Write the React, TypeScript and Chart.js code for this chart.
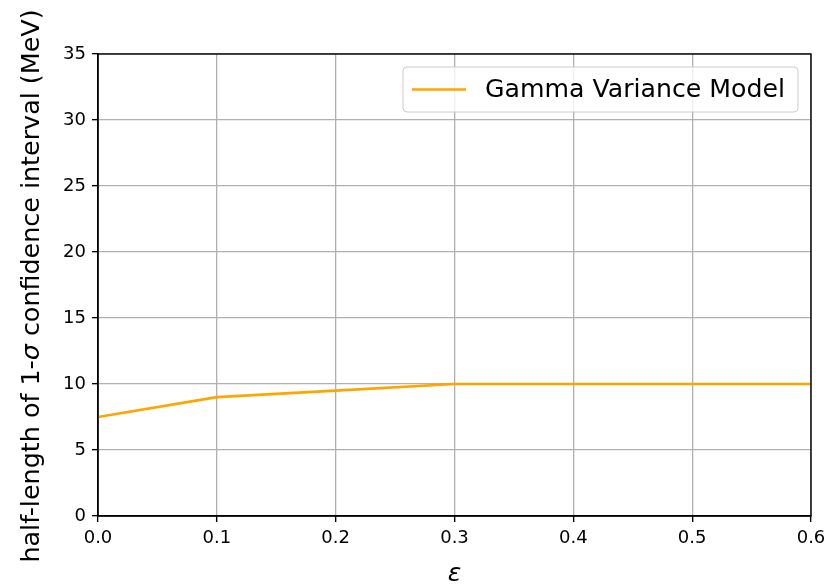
import React, { useEffect, useRef } from "react";
import { Chart, registerables } from "chart.js";

Chart.register(...registerables);

// Half-length of the 1-sigma interval versus epsilon
const epsilon = [0.0, 0.1, 0.2, 0.3, 0.4, 0.5, 0.6];
const halfLength = [7.5, 9.0, 9.5, 10.0, 10.0, 10.0, 10.0];

const xTicks = [0.0, 0.1, 0.2, 0.3, 0.4, 0.5, 0.6];
const yTicks = [0, 5, 10, 15, 20, 25, 30, 35];

const seriesLabel = "Gamma Variance Model";
const seriesColor = "#ffa500";
const xTitle = "ε";
// [text, italic]
const yTitleParts: [string, boolean][] = [
  ["half-length of 1-", false],
  ["σ", true],
  [" confidence interval (MeV)", false],
];

const FONT = "'DejaVu Sans', 'Liberation Sans', sans-serif";

// black box around the plotting area, drawn above the data line
const framePlugin = {
  id: "frame",
  afterDatasetsDraw(chart: any) {
    const { ctx, chartArea: a } = chart;
    ctx.save();
    ctx.strokeStyle = "#000";
    ctx.lineWidth = 1.4;
    ctx.strokeRect(a.left, a.top, a.right - a.left, a.bottom - a.top);
    ctx.restore();
  },
};

// vertical axis title with an italic sigma
const yTitlePlugin = {
  id: "yTitle",
  afterDraw(chart: any) {
    const { ctx, chartArea: a } = chart;
    const size = 25.4;
    ctx.save();
    const fontFor = (it: boolean) => `${it ? "italic " : ""}${size}px ${FONT}`;
    let total = 0;
    const widths = yTitleParts.map(([t, it]) => {
      ctx.font = fontFor(it);
      const w = ctx.measureText(t).width;
      total += w;
      return w;
    });
    ctx.translate(32, (a.top + a.bottom) / 2 + 1);
    ctx.rotate(-Math.PI / 2);
    ctx.fillStyle = "#000";
    ctx.textBaseline = "middle";
    ctx.textAlign = "left";
    let x = -total / 2;
    yTitleParts.forEach(([t, it], i) => {
      ctx.font = fontFor(it);
      ctx.fillText(t, x, 0);
      x += widths[i];
    });
    ctx.restore();
  },
};

// boxed legend in the upper-right corner of the plotting area
const legendBoxPlugin = {
  id: "legendBox",
  afterDraw(chart: any) {
    const { ctx, chartArea: a } = chart;
    const ds = chart.data.datasets[0];
    const size = 25.2;
    ctx.save();
    ctx.font = `${size}px ${FONT}`;
    const textW = ctx.measureText(ds.label).width;
    const padL = 9, handle = 54, gap = 19, padR = 11, h = 45;
    const w = Math.max(padL + handle + gap + textW + padR, 395);
    const right = a.right - 13;
    const top = a.top + 13;
    const left = right - w;
    ctx.beginPath();
    ctx.roundRect(left, top, w, h, 4);
    ctx.fillStyle = "rgba(255,255,255,0.8)";
    ctx.fill();
    ctx.strokeStyle = "#cccccc";
    ctx.lineWidth = 1;
    ctx.stroke();
    const cy = top + h / 2;
    ctx.beginPath();
    ctx.moveTo(left + padL, cy);
    ctx.lineTo(left + padL + handle, cy);
    ctx.strokeStyle = ds.borderColor;
    ctx.lineWidth = 2.7;
    ctx.stroke();
    ctx.fillStyle = "#000";
    ctx.textBaseline = "middle";
    ctx.textAlign = "left";
    ctx.fillText(ds.label, left + padL + handle + gap, cy + 1);
    ctx.restore();
  },
};

export default function App() {
  const canvasRef = useRef<HTMLCanvasElement | null>(null);

  useEffect(() => {
    if (!canvasRef.current) return;
    const points = epsilon.map((x, i) => ({ x, y: halfLength[i] }));
    const grid = {
      color: "#b0b0b0",
      lineWidth: 1.3,
      tickColor: "#000",
      tickLength: 6,
      tickWidth: 1.4,
    };
    const chart = new Chart(canvasRef.current, {
      type: "line",
      data: {
        datasets: [
          {
            label: seriesLabel,
            data: points,
            borderColor: seriesColor,
            backgroundColor: seriesColor,
            borderWidth: 2.7,
            pointRadius: 0,
            tension: 0,
            fill: false,
            borderJoinStyle: "round",
          },
        ],
      },
      options: {
        animation: false,
        responsive: false,
        maintainAspectRatio: false,
        devicePixelRatio: 1,
        layout: { padding: { top: 54, right: 27, bottom: 0, left: 0 } },
        plugins: {
          legend: { display: false },
          tooltip: { enabled: false },
          title: { display: false },
        },
        scales: {
          x: {
            type: "linear",
            min: 0,
            max: 0.6,
            grid,
            border: { display: true, color: "#000", width: 1.4 },
            afterBuildTicks: (s: any) => {
              s.ticks = xTicks.map((v) => ({ value: v }));
            },
            afterFit: (s: any) => {
              s.height = 70;
            },
            ticks: {
              autoSkip: false,
              maxRotation: 0,
              padding: 6,
              color: "#000",
              font: { family: FONT, size: 18 },
              callback: (v: any) => Number(v).toFixed(1),
            },
            title: {
              display: true,
              text: xTitle,
              color: "#000",
              font: { family: FONT, size: 25, style: "italic", lineHeight: 0.9 },
              padding: { top: 0, bottom: 0 },
            },
          },
          y: {
            type: "linear",
            min: 0,
            max: 35,
            grid,
            border: { display: true, color: "#000", width: 1.4 },
            afterBuildTicks: (s: any) => {
              s.ticks = yTicks.map((v) => ({ value: v }));
            },
            afterFit: (s: any) => {
              s.width = 98;
            },
            ticks: {
              autoSkip: false,
              padding: 6,
              color: "#000",
              font: { family: FONT, size: 18 },
              callback: (v: any) => String(v),
            },
          },
        },
      },
      plugins: [framePlugin, yTitlePlugin, legendBoxPlugin],
    } as any);
    return () => chart.destroy();
  }, []);

  return (
    <div style={{ position: "fixed", left: 0, top: 0, width: 838, height: 586, background: "#fff" }}>
      <canvas ref={canvasRef} width={838} height={586} style={{ display: "block", width: 838, height: 586 }} />
    </div>
  );
}
